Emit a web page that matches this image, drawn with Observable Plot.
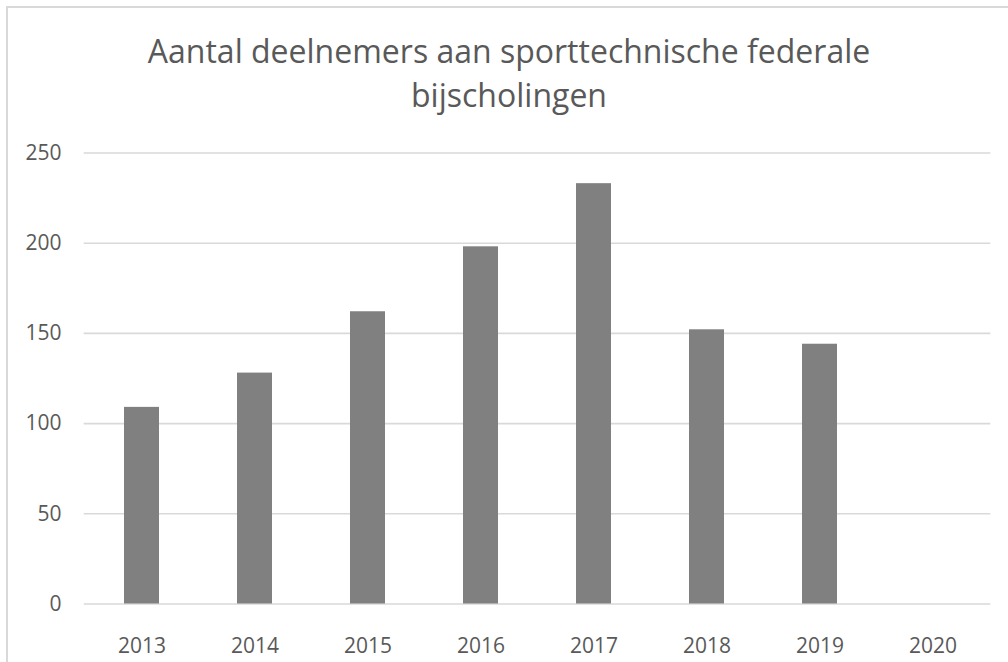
<!DOCTYPE html>
<html>
<head>
<meta charset="utf-8">
<script src="https://cdn.jsdelivr.net/npm/d3@7"></script>
<script src="https://cdn.jsdelivr.net/npm/@observablehq/plot@0.6"></script>
<style>
  html, body { margin: 0; padding: 0; background: #ffffff; }
  #wrap { position: relative; width: 1008px; height: 662px; overflow: hidden; background: #ffffff; }
  #frame { position: absolute; left: 6px; top: 6px; width: 1100px; height: 800px;
           border-left: 2px solid #d9d9d9; border-top: 2px solid #d9d9d9; box-sizing: border-box; pointer-events: none; }
  #title { position: relative; height: 120px; box-sizing: border-box; padding-top: 28.9px; margin: 0;
           font-family: "Open Sans", sans-serif; font-size: 32px; line-height: 44px; font-weight: 400;
           color: #595959; text-align: center; padding-left: 10px; }
  #chart { position: relative; }
  #chart svg { display: block; }
</style>
</head>
<body>
<div id="wrap">
  <div id="frame"></div>
  <h1 id="title">Aantal deelnemers aan sporttechnische federale<br>bijscholingen</h1>
  <div id="chart"></div>
</div>
<script>
const years = ["2013", "2014", "2015", "2016", "2017", "2018", "2019", "2020"];
const deelnemers = [109, 128, 162, 198, 233, 152, 144, 0];
const yTicks = [0, 50, 100, 150, 200, 250];

const data = years.map((y, i) => ({jaar: y, aantal: deelnemers[i]}));

const chart = Plot.plot({
  width: 1008,
  height: 542,
  marginTop: 32.5,
  marginBottom: 58.5,
  marginLeft: 83.7,
  marginRight: 17.7,
  style: {fontFamily: "'Open Sans', sans-serif", fontSize: "21px", color: "#595959", background: "transparent", overflow: "visible"},
  x: {domain: years, paddingInner: 0.69, paddingOuter: 0.345, label: null},
  y: {domain: [0, 250], label: null},
  marks: [
    Plot.gridY(yTicks, {stroke: "#d9d9d9", strokeOpacity: 1, strokeWidth: 1.6}),
    Plot.barY(data, {x: "jaar", y: "aantal", fill: "#808080"}),
    Plot.axisY(yTicks, {tickSize: 0, tickPadding: 22.7, fill: "#595959", fontSize: 21, label: null}),
    Plot.axisX({tickSize: 0, tickPadding: 34.5, fill: "#595959", fontSize: 21, label: null})
  ]
});
document.getElementById("chart").appendChild(chart);
</script>
</body>
</html>
